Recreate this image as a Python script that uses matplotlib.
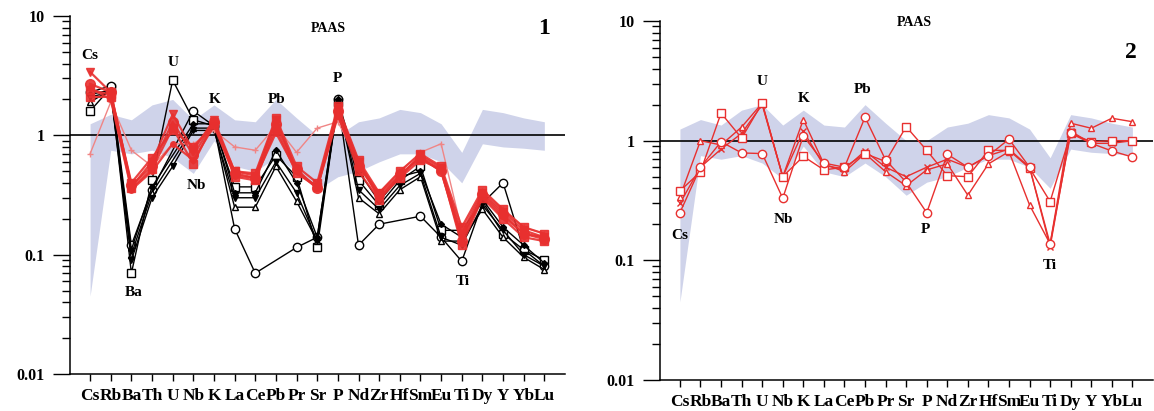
import numpy as np
import matplotlib
matplotlib.use("Agg")
import matplotlib.pyplot as plt
from matplotlib.ticker import LogLocator, NullFormatter, FuncFormatter

# font: Times-like bold serif
plt.rcParams["font.family"] = ["Liberation Serif", "DejaVu Serif"]
plt.rcParams["font.weight"] = "bold"

nan = np.nan
elements = ["Cs", "Rb", "Ba", "Th", "U", "Nb", "K", "La", "Ce", "Pb", "Pr", "Sr",
            "P", "Nd", "Zr", "Hf", "Sm", "Eu", "Ti", "Dy", "Y", "Yb", "Lu"]
y_ticks = [0.01, 0.1, 1, 10]

# shaded reference range (PAAS normalised)
band_low = [0.045, 0.75, 0.7, 0.75, 0.65, 0.48, 0.9, 0.55, 0.5, 0.65, 0.5, 0.35,
            0.45, 0.5, 0.6, 0.7, 0.7, 0.6, 0.4, 0.85, 0.8, 0.78, 0.75]
band_high = [1.25, 1.5, 1.35, 1.8, 2.0, 1.35, 1.8, 1.35, 1.3, 2.0, 1.4, 1.0,
             1.0, 1.3, 1.4, 1.65, 1.55, 1.25, 0.72, 1.65, 1.55, 1.4, 1.3]

# panel 1, black samples
p1_black_sq = [1.6, 2.5, 0.07, 0.42, 2.9, 1.35, 1.2, 0.37, 0.37, 0.68, 0.45, 0.115,
               1.9, 0.42, 0.26, 0.42, 0.55, 0.16, 0.16, 0.28, 0.15, 0.11, 0.09]
p1_black_ci = [2.3, 2.6, 0.12, 0.35, nan, 1.6, 1.2, 0.165, 0.07, nan, 0.115, 0.14,
               2.0, 0.12, 0.18, nan, 0.21, 0.14, 0.088, 0.27, 0.4, 0.11, 0.08]
p1_black_tr = [1.9, 2.4, 0.1, 0.33, nan, 1.15, 1.15, 0.25, 0.25, 0.55, 0.28, 0.13,
               1.9, 0.3, 0.22, 0.35, 0.45, 0.13, 0.13, 0.24, 0.14, 0.095, 0.075]
p1_black_dt = [2.1, 2.3, 0.09, 0.3, 0.55, 1.1, 1.1, 0.3, 0.3, 0.6, 0.33, 0.13,
               1.9, 0.35, 0.24, 0.38, 0.48, 0.14, 0.12, 0.26, 0.16, 0.1, 0.08]
p1_black_dm = [2.2, 2.4, 0.11, 0.37, nan, 1.25, 1.25, 0.33, 0.33, 0.75, 0.4, 0.14,
               2.0, 0.5, 0.28, 0.45, 0.5, 0.18, 0.14, 0.29, 0.17, 0.12, 0.085]

# panel 1, red samples
p1_red_tv = [3.4, 2.3, 0.37, 0.6, 1.5, 0.75, 1.35, 0.5, 0.46, 1.35, 0.5, 0.37,
             1.7, 0.6, 0.3, 0.45, 0.68, 0.53, 0.15, 0.33, 0.23, 0.16, 0.14]
p1_red_ci = [2.7, 2.3, 0.38, 0.55, 1.3, 0.68, 1.3, 0.48, 0.44, 1.25, 0.52, 0.36,
             1.6, 0.55, 0.32, 0.47, 0.65, 0.5, 0.13, 0.32, 0.22, 0.15, 0.135]
p1_red_sq = [2.1, 2.1, 0.36, 0.52, 1.15, 0.58, 1.3, 0.45, 0.42, 1.15, 0.48, 0.37,
             1.5, 0.5, 0.29, 0.44, 0.62, 0.52, 0.12, 0.3, 0.2, 0.14, 0.13]
p1_red_sq2 = [2.4, 2.2, 0.4, 0.65, 1.1, 0.8, 1.25, 0.5, 0.48, 1.4, 0.55, 0.4,
              1.75, 0.62, 0.33, 0.5, 0.7, 0.55, 0.17, 0.35, 0.24, 0.17, 0.15]
p1_red_dt = [2.5, 2.0, 0.35, 0.5, 0.85, 0.62, 1.2, 0.46, 0.44, 1.05, 0.5, 0.36,
             1.45, 0.58, 0.3, 0.46, 0.66, 0.5, 0.14, 0.31, 0.21, 0.15, 0.14]
p1_red_thin = [0.7, 1.9, 0.75, 0.55, 0.85, 0.85, 1.1, 0.8, 0.75, 1.2, 0.72, 1.15,
               1.3, 0.6, 0.33, 0.5, 0.72, 0.85, 0.16, 0.34, 0.24, 0.17, 0.15]

# panel 2, red samples (open markers)
p2_ci = [0.25, 0.6, 0.98, 0.79, 0.78, 0.33, 1.1, 0.65, 0.6, 1.57, 0.69, 0.45,
         0.25, 0.77, 0.6, 0.75, 1.03, 0.6, 0.137, 1.15, 0.95, 0.82, 0.73]
p2_sq = [0.38, 0.55, 1.7, 1.05, 2.06, 0.5, 0.74, 0.57, 0.6, 0.78, 0.67, 1.31,
         0.83, 0.51, 0.5, 0.83, 0.83, 0.59, 0.31, 1.15, 0.98, 1.0, 1.0]
p2_tr = [0.34, 1.0, 0.92, 1.3, 2.06, 0.5, 1.5, 0.64, 0.55, 0.78, 0.55, 0.42,
         0.57, 0.64, 0.35, 0.64, 0.81, 0.29, 0.137, 1.4, 1.27, 1.54, 1.44]
p2_x = [0.3, 0.6, 0.85, 1.15, 2.0, 0.5, 1.2, 0.62, 0.58, 0.82, 0.6, 0.5,
        0.6, 0.7, 0.6, 0.75, 0.85, 0.6, 0.13, 1.2, 0.95, 0.95, 1.0]

x = np.arange(len(elements))
RED = "#e8302f"


def draw(ax, vals, **kw):
    v = np.array(vals, dtype=float)
    ok = ~np.isnan(v)
    ax.plot(x[ok], v[ok], **kw)


def setup(ax):
    ax.fill_between(x, band_low, band_high, color="#cfd3ea", lw=0, zorder=1)
    ax.axhline(1, color="black", lw=1.2, zorder=2)
    ax.set_yscale("log")
    ax.set_ylim(0.01, 10)
    ax.set_xlim(-0.97, 23.0)
    ax.set_xticks(x)
    ax.set_xticklabels(elements, fontsize=12.5)
    ax.set_yticks(y_ticks)
    ax.yaxis.set_major_formatter(FuncFormatter(lambda v, p: f"{v:g}"))
    ax.yaxis.set_minor_locator(LogLocator(base=10, subs=np.arange(2, 10)))
    ax.yaxis.set_minor_formatter(NullFormatter())
    ax.tick_params(axis="y", which="major", direction="out", length=12, width=1, labelsize=11.5, pad=6)
    ax.tick_params(axis="y", which="minor", direction="out", length=6, width=1)
    ax.tick_params(axis="x", direction="out", length=5, width=1, pad=5)
    for s in ["top", "right"]:
        ax.spines[s].set_visible(False)
    for s in ["left", "bottom"]:
        ax.spines[s].set_linewidth(1.1)


fig = plt.figure(figsize=(11.54, 4.11), dpi=100)
ax1 = fig.add_axes([0.0607, 0.0900, 0.4289, 0.8710])
ax2 = fig.add_axes([0.5719, 0.0754, 0.4272, 0.8735])

# ---- panel 1 ----
setup(ax1)
bk = dict(color="black", lw=1.0, mfc="white", mec="black", mew=1.0, zorder=3)
draw(ax1, p1_black_sq, marker="s", ms=6, **bk)
draw(ax1, p1_black_ci, marker="o", ms=6, **bk)
draw(ax1, p1_black_tr, marker="^", ms=5, **bk)
draw(ax1, p1_black_dt, marker="v", ms=4, color="black", lw=1.0, zorder=3)
draw(ax1, p1_black_dm, marker="D", ms=3, color="black", lw=1.0, zorder=3)

draw(ax1, p1_red_thin, marker="+", ms=4, color="#f08585", lw=1.0, zorder=3)
rd = dict(color=RED, lw=1.6, alpha=0.9, zorder=4)
draw(ax1, p1_red_tv, marker="v", ms=6, **rd)
draw(ax1, p1_red_ci, marker="o", ms=7, **rd)
draw(ax1, p1_red_sq, marker="s", ms=6, **rd)
draw(ax1, p1_red_sq2, marker="s", ms=6, **rd)
draw(ax1, p1_red_dt, marker="o", ms=4, **rd)

lab = dict(ha="center", va="center", fontsize=11, fontweight="bold")
ax1.text(0, 4.7, "Cs", **lab)
ax1.text(4, 4.1, "U", **lab)
ax1.text(6.05, 2.0, "K", **lab)
ax1.text(9.05, 2.0, "Pb", **lab)
ax1.text(12, 3.0, "P", **lab)
ax1.text(5.15, 0.38, "Nb", **lab)
ax1.text(2.1, 0.048, "Ba", **lab)
ax1.text(18.05, 0.06, "Ti", **lab)
ax1.text(11.55, 7.9, "PAAS", ha="center", va="center", fontsize=10)
ax1.text(22, 7.9, "1", ha="center", va="center", fontsize=17)

# ---- panel 2 ----
setup(ax2)
op = dict(color=RED, lw=1.0, mfc="white", mec=RED, mew=1.0, zorder=3)
draw(ax2, p2_x, marker="x", ms=4, color=RED, lw=1.0, zorder=3)
draw(ax2, p2_tr, marker="^", ms=5, **op)
draw(ax2, p2_sq, marker="s", ms=6, **op)
draw(ax2, p2_ci, marker="o", ms=6, **op)

ax2.text(0, 0.16, "Cs", **lab)
ax2.text(4, 3.1, "U", **lab)
ax2.text(6, 2.24, "K", **lab)
ax2.text(8.9, 2.7, "Pb", **lab)
ax2.text(5.05, 0.22, "Nb", **lab)
ax2.text(11.95, 0.18, "P", **lab)
ax2.text(17.96, 0.09, "Ti", **lab)
ax2.text(11.4, 9.7, "PAAS", ha="center", va="center", fontsize=10)
ax2.text(21.95, 5.5, "2", ha="center", va="center", fontsize=17)

fig.savefig("out.png", dpi=100)
